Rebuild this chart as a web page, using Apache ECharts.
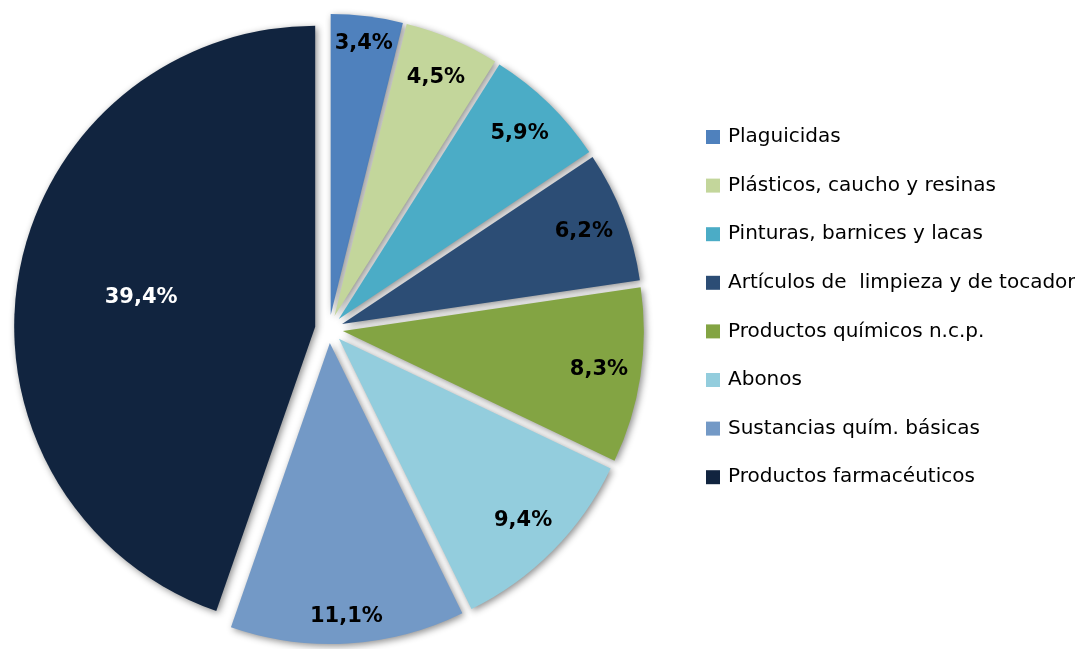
<!DOCTYPE html>
<html>
<head>
<meta charset="utf-8">
<script src="https://cdn.jsdelivr.net/npm/echarts@6/dist/echarts.min.js"></script>
<style>
  html, body { margin: 0; padding: 0; background: #fff; }
  #chart { width: 1075px; height: 649px; }
</style>
</head>
<body>
<div id="chart"></div>
<script>
// Data
const categories = [
    'Plaguicidas',
    'Plásticos, caucho y resinas',
    'Pinturas, barnices y lacas',
    'Artículos de  limpieza y de tocador',
    'Productos químicos n.c.p.',
    'Abonos',
    'Sustancias quím. básicas',
    'Productos farmacéuticos'
];
const values = [3.4, 4.5, 5.9, 6.2, 8.3, 9.4, 11.1, 39.4];
const colors = ['#4f81bd', '#c3d69b', '#4bacc6', '#2c4d75', '#83a443', '#93cddd', '#7399c6', '#11243f'];

const CENTER = [329, 329];
const R = 301;
const OFFSET = 14;

const fmt = v => v.toFixed(1).replace('.', ',') + '%';

const pieData = categories.map((name, i) => ({
    name,
    value: values[i],
    selected: true,
    itemStyle: { color: colors[i] }
}));

// overlay pies only carry the labels, at the radius Excel put them
const labelData = (showIdx) => categories.map((name, i) => ({
    name,
    value: values[i],
    selected: true,
    itemStyle: { color: 'transparent' },
    label: { show: showIdx(i) }
}));

const labelSeries = (radius, showIdx, color) => ({
    type: 'pie',
    silent: true,
    center: CENTER,
    radius,
    startAngle: 90,
    clockwise: true,
    selectedMode: 'multiple',
    selectedOffset: OFFSET,
    animation: false,
    legendHoverLink: false,
    labelLine: { show: false },
    label: {
        position: 'inside',
        formatter: p => fmt(p.value),
        fontFamily: 'DejaVu Sans',
        fontSize: 21,
        fontWeight: 'bold',
        color: color
    },
    emphasis: { disabled: true },
    data: labelData(showIdx)
});

const chart = echarts.init(document.getElementById('chart'));

chart.setOption({
    animation: false,
    legend: {
        orient: 'vertical',
        left: 706,
        top: 127,
        padding: 0,
        itemWidth: 14,
        itemHeight: 14,
        itemGap: 28.6,
        icon: 'rect',
        data: categories,
        textStyle: {
            fontFamily: 'DejaVu Sans',
            fontSize: 20,
            color: '#000',
            padding: [0, 0, 0, 3]
        },
        selectedMode: false
    },
    series: [
        {
            type: 'pie',
            center: CENTER,
            radius: [0, R],
            startAngle: 90,
            clockwise: true,
            selectedMode: 'multiple',
            selectedOffset: OFFSET,
            label: { show: false },
            labelLine: { show: false },
            itemStyle: {
                shadowBlur: 7,
                shadowOffsetX: 2,
                shadowOffsetY: 2,
                shadowColor: 'rgba(0,0,0,0.45)'
            },
            emphasis: { disabled: true },
            data: pieData
        },
        labelSeries([211, R], i => i > 0 && i < 6, '#000'),
        labelSeries([241, R], i => i === 0 || i === 6, '#000'),
        labelSeries([46, R], i => i === 7, '#fff')
    ]
});
</script>
</body>
</html>
